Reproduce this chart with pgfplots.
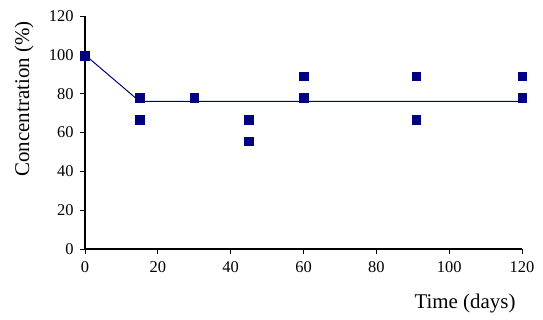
\documentclass[border=0pt]{standalone}
\usepackage{fontspec}
\setmainfont{Liberation Serif}
\usepackage{pgfplots}
\pgfplotsset{compat=1.18}
\usetikzlibrary{calc}
\definecolor{navy}{RGB}{0,0,128}
\begin{document}
\begin{tikzpicture}
\begin{axis}[
  scale only axis,
  width=437bp, height=233bp,
  xmin=0, xmax=120, ymin=0, ymax=120,
  axis lines*=left,
  axis line style={line width=1.2bp, black},
  tick align=outside,
  major tick length=5bp,
  tick style={black, line width=0.8bp},
  xtick={0,20,...,120}, ytick={0,20,...,120},
  /pgf/number format/assume math mode=true,
  ticklabel style={font=\fontsize{16.5}{18}\selectfont},
  xticklabel style={yshift=-4bp},
  yticklabel style={xshift=-3bp},
  xlabel={Time (days)},
  ylabel={Concentration (\%)},
  label style={font=\fontsize{21}{24}\selectfont},
  xlabel style={at={(axis description cs:1,0)}, anchor=base east, yshift=-59bp, xshift=-3bp},
  ylabel style={at={(axis description cs:-0.1396,0.644)}, anchor=center},
  clip=false,
]
\addplot[navy, line width=1bp, no marks] coordinates {(0,100) (15,76) (120,76)};
\addplot[only marks, mark=square*, mark size=4.3bp, navy, mark options={fill=navy, draw=navy}] coordinates {
(0,99.4) (15,77.8) (15,66.7) (30,77.8) (45,66.7) (45,55.6) (60,88.9) (60,77.8) (91,88.9) (91,66.7) (120,88.9) (120,77.8)
};
\coordinate (sw) at (rel axis cs:0,0);
\coordinate (ne) at (rel axis cs:1,1);
\end{axis}
\pgfresetboundingbox
\path ($(sw)+(-85bp,-71bp)$) rectangle ($(ne)+(21bp,16bp)$);
\end{tikzpicture}
\end{document}
